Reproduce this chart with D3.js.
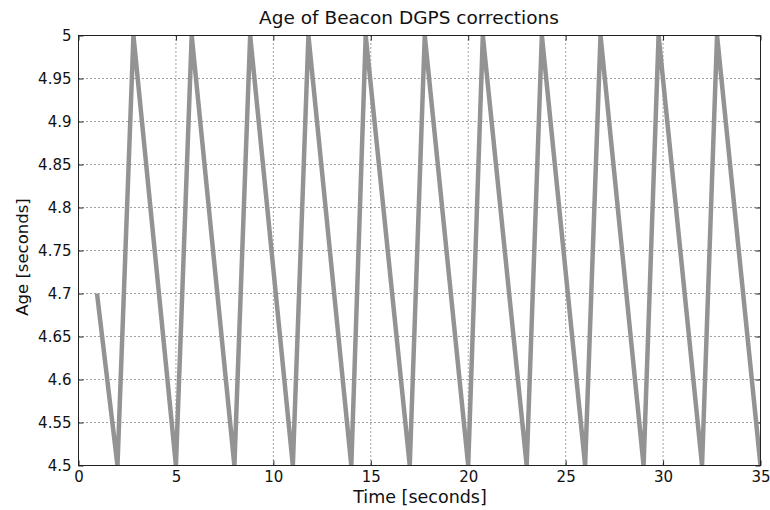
<!DOCTYPE html>
<html>
<head>
<meta charset="utf-8">
<script src="https://cdn.jsdelivr.net/npm/d3@7"></script>
<style>
  html, body { margin: 0; padding: 0; background: #fff; }
  svg { display: block; }
  text { font-family: "DejaVu Sans", "Liberation Sans", sans-serif; fill: #111; }
</style>
</head>
<body>
<svg id="chart" width="770" height="510"></svg>
<script>
// Age of the most recent beacon DGPS correction over time
const timeSec = [0.95, 2.0, 2.82, 5.0, 5.81, 8.0, 8.81, 11.0, 11.8, 14.0, 14.74, 17.0, 17.77,
                 20.0, 20.75, 23.0, 23.78, 26.0, 26.79, 29.0, 29.77, 32.0, 32.77, 35.0];
const ageSec  = [4.70, 4.50, 5.00, 4.50, 5.00, 4.50, 5.00, 4.50, 5.00, 4.50, 5.00, 4.50, 5.00,
                 4.50, 5.00, 4.50, 5.00, 4.50, 5.00, 4.50, 5.00, 4.50, 5.00, 4.50];

const xTicks = [0, 5, 10, 15, 20, 25, 30, 35];
const yTicks = [4.5, 4.55, 4.6, 4.65, 4.7, 4.75, 4.8, 4.85, 4.9, 4.95, 5];
const yTickLabels = ["4.5", "4.55", "4.6", "4.65", "4.7", "4.75", "4.8", "4.85", "4.9", "4.95", "5"];

const titleText = "Age of Beacon DGPS corrections";
const xLabelText = "Time [seconds]";
const yLabelText = "Age [seconds]";

const svg = d3.select("#chart");
const m = { left: 78.5, right: 760.5, top: 35.5, bottom: 465.5 };

const x = d3.scaleLinear().domain([0, 35]).range([m.left, m.right]);
const y = d3.scaleLinear().domain([4.5, 5]).range([m.bottom, m.top]);

svg.append("defs").append("clipPath").attr("id", "plot-clip")
  .append("rect")
  .attr("x", m.left).attr("y", m.top)
  .attr("width", m.right - m.left).attr("height", m.bottom - m.top);

// dotted grid
const grid = svg.append("g");
grid.selectAll("line.vx").data(xTicks.slice(1, -1)).join("line")
  .attr("x1", d => x(d)).attr("x2", d => x(d))
  .attr("y1", m.top).attr("y2", m.bottom)
  .attr("stroke", "#444").attr("stroke-width", 1).attr("stroke-dasharray", "1,3");
grid.selectAll("line.hy").data(yTicks.slice(1, -1)).join("line")
  .attr("x1", m.left).attr("x2", m.right)
  .attr("y1", d => y(d)).attr("y2", d => y(d))
  .attr("stroke", "#444").attr("stroke-width", 1).attr("stroke-dasharray", "1,3");

// axes with inward ticks
const xAxis = d3.axisBottom(x).tickValues(xTicks).tickSizeInner(-5).tickSizeOuter(0).tickPadding(6);
const yAxis = d3.axisLeft(y).tickValues(yTicks).tickSizeInner(-5).tickSizeOuter(0).tickPadding(7)
  .tickFormat((d, i) => yTickLabels[i]);

const gx = svg.append("g").attr("transform", `translate(0,${m.bottom})`).call(xAxis);
const gy = svg.append("g").attr("transform", `translate(${m.left},0)`).call(yAxis);
[gx, gy].forEach(g => {
  g.select(".domain").remove();
  g.selectAll(".tick line").attr("stroke", "#222");
  g.selectAll(".tick text").attr("font-size", 15).attr("font-family", "DejaVu Sans").attr("fill", "#111");
});

// top/right ticks mirrored
const gt = svg.append("g").attr("transform", `translate(0,${m.top})`)
  .call(d3.axisTop(x).tickValues(xTicks).tickSizeInner(-5).tickSizeOuter(0).tickFormat(""));
const gr = svg.append("g").attr("transform", `translate(${m.right},0)`)
  .call(d3.axisRight(y).tickValues(yTicks).tickSizeInner(-5).tickSizeOuter(0).tickFormat(""));
[gt, gr].forEach(g => { g.select(".domain").remove(); g.selectAll(".tick line").attr("stroke", "#222"); });

// data line, clipped to the axes box
const line = d3.line().x((d, i) => x(timeSec[i])).y(d => y(d));
svg.append("path").datum(ageSec)
  .attr("clip-path", "url(#plot-clip)")
  .attr("d", line)
  .attr("fill", "none")
  .attr("stroke", "#939393")
  .attr("stroke-width", 4.5)
  .attr("stroke-linejoin", "miter")
  .attr("stroke-miterlimit", 20);

// plot frame
svg.append("rect")
  .attr("x", m.left).attr("y", m.top)
  .attr("width", m.right - m.left).attr("height", m.bottom - m.top)
  .attr("fill", "none").attr("stroke", "#222").attr("stroke-width", 1);

// labels
svg.append("text").attr("x", 409).attr("y", 24)
  .attr("text-anchor", "middle").attr("font-size", 18.5).text(titleText);
svg.append("text").attr("x", 420).attr("y", 503)
  .attr("text-anchor", "middle").attr("font-size", 17.5).attr("font-weight", 500).text(xLabelText);
svg.append("text").attr("transform", "translate(28,257) rotate(-90)")
  .attr("text-anchor", "middle").attr("font-size", 16.5).text(yLabelText);
</script>
</body>
</html>
